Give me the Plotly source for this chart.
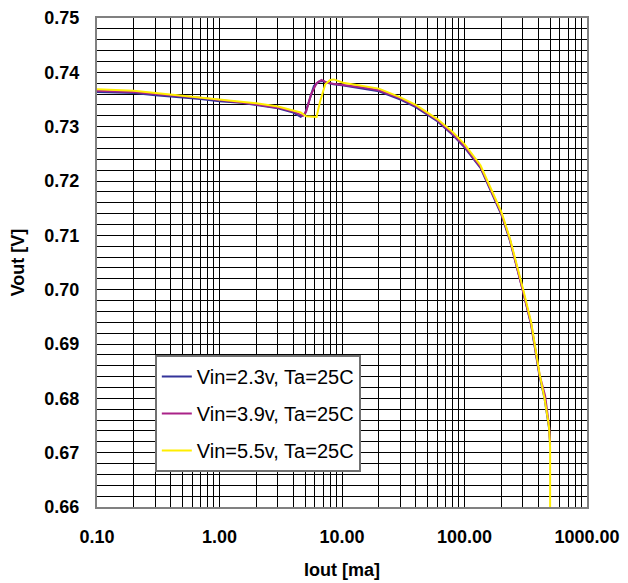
import plotly.graph_objects as go

# ---- data (Iout in mA, Vout in V) ----
x_23 = [0.1, 0.15, 0.2, 0.3, 0.5, 0.7, 1.0, 1.5, 2.0, 3.0, 4.0, 4.6, 5.0, 5.4, 5.9, 6.5, 7.0, 7.5, 8.5, 10,
        15, 20, 30, 40, 60, 80, 100, 135, 200, 235, 300, 350, 410, 450, 490, 500]
y_23 = [0.7364, 0.7363, 0.7362, 0.7358, 0.7354, 0.7351, 0.7347, 0.7344, 0.7340, 0.7334, 0.7326, 0.7318,
        0.7324, 0.7350, 0.7375, 0.7383, 0.7384, 0.7381, 0.7378, 0.7376, 0.7370, 0.7365, 0.7350, 0.7336,
        0.7310, 0.7285, 0.7262, 0.7224, 0.7138, 0.7090, 0.6998, 0.6935, 0.6840, 0.6800, 0.6745, 0.6715]

x_39 = [0.1, 0.15, 0.2, 0.3, 0.5, 0.7, 1.0, 1.5, 2.0, 3.0, 4.0, 4.8, 5.1, 5.6, 6.2, 6.8, 7.5, 8.5, 10,
        15, 20, 30, 40, 60, 80, 100, 135, 200, 235, 300, 350, 410, 455, 490, 500]
y_39 = [0.7366, 0.7365, 0.7364, 0.7360, 0.7356, 0.7353, 0.7349, 0.7345, 0.7341, 0.7335, 0.7328, 0.7320,
        0.7328, 0.7360, 0.7380, 0.7386, 0.7381, 0.7379, 0.7377, 0.7372, 0.7367, 0.7352, 0.7338, 0.7312,
        0.7287, 0.7264, 0.7226, 0.7140, 0.7092, 0.7000, 0.6937, 0.6843, 0.6805, 0.6750, 0.6720]

x_55 = [0.1, 0.15, 0.2, 0.3, 0.5, 0.7, 1.0, 1.5, 2.0, 3.0, 4.0, 4.6, 5.1, 5.6, 6.2, 6.6, 7.3, 8.0, 8.6,
        10.2, 15, 20, 30, 40, 60, 80, 100, 135, 200, 235, 300, 350, 410, 450, 490, 500, 500]
y_55 = [0.7369, 0.7368, 0.7366, 0.7362, 0.7357, 0.7354, 0.7350, 0.7346, 0.7343, 0.7337, 0.7329, 0.7326,
        0.7319, 0.7318, 0.7318, 0.7345, 0.7378, 0.7386, 0.7387, 0.7381, 0.7374, 0.7370, 0.7354, 0.7340,
        0.7314, 0.7290, 0.7268, 0.7229, 0.7143, 0.7094, 0.7002, 0.6940, 0.6845, 0.6800, 0.6748, 0.6710,
        0.6600]

names = ["Vin=2.3v, Ta=25C", "Vin=3.9v, Ta=25C", "Vin=5.5v, Ta=25C"]
colors = ["#333399", "#AA2288", "#FFEE00"]

x_decades = [0.1, 1, 10, 100, 1000]
x_labels = ["0.10", "1.00", "10.00", "100.00", "1000.00"]
y_major = [0.66, 0.67, 0.68, 0.69, 0.70, 0.71, 0.72, 0.73, 0.74, 0.75]

# ---- gridline / tick positions ----
x_grid = []
for d in x_decades[:-1]:
    for m in range(1, 10):
        x_grid.append(round(d * m, 6))
x_grid.append(1000)
x_text = [x_labels[x_decades.index(v)] if v in x_decades else "" for v in x_grid]

y_grid = [round(0.66 + 0.002 * i, 3) for i in range(46)]
y_text = [f"{v:.2f}" if any(abs(v - m) < 1e-9 for m in y_major) else "" for v in y_grid]

fig = go.Figure()
for i, (xs, ys) in enumerate([(x_23, y_23), (x_39, y_39), (x_55, y_55)]):
    fig.add_trace(go.Scatter(x=xs, y=ys, mode="lines", name=names[i],
                             legendgroup=f"g{i}",
                             line=dict(color=colors[i], width=2)))

font_family = "Liberation Sans, Arial, sans-serif"
fig.update_layout(
    width=628, height=583,
    margin=dict(l=97, r=41, t=18, b=76),
    paper_bgcolor="white", plot_bgcolor="white",
    font=dict(family=font_family, color="black"),
    showlegend=True,
    legend=dict(x=0.118, y=0.311, xanchor="left", yanchor="top",
                bgcolor="white", bordercolor="#707070", borderwidth=2,
                font=dict(size=20, family=font_family, color="black"),
                tracegroupgap=8, traceorder="grouped"),
    xaxis=dict(type="log", range=[-1, 3], tickmode="array", tickvals=x_grid, ticktext=x_text,
               showgrid=True, gridcolor="black", gridwidth=1,
               showline=True, linecolor="#808080", linewidth=2, mirror=True,
               ticks="", ticklabelstandoff=12, automargin=False,
               tickfont=dict(size=18, family=font_family, color="black", weight="bold"),
               title=dict(text="<b>Iout [ma]</b>", font=dict(size=18), standoff=18),
               zeroline=False),
    yaxis=dict(range=[0.66, 0.75], tickmode="array", tickvals=y_grid, ticktext=y_text,
               showgrid=True, gridcolor="black", gridwidth=1,
               showline=True, linecolor="#808080", linewidth=2, mirror=True,
               ticks="", ticklabelstandoff=12, automargin=False,
               tickfont=dict(size=18, family=font_family, color="black", weight="bold"),
               title=dict(text="<b>Vout [V]</b>", font=dict(size=18), standoff=15),
               zeroline=False),
)

fig.write_html("out.html")
